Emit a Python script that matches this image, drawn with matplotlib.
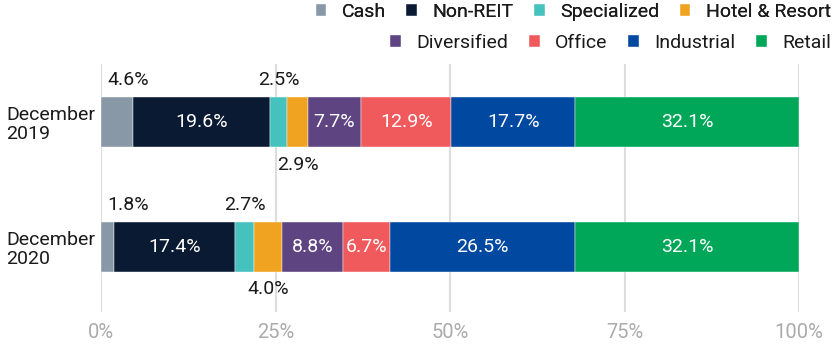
import matplotlib
matplotlib.use("Agg")
import matplotlib.pyplot as plt
import numpy as np

plt.rcParams['font.family'] = ['Roboto', 'DejaVu Sans']

categories = ["December\n2019", "December\n2020"]
series = ["Cash", "Non-REIT", "Specialized", "Hotel & Resort",
          "Diversified", "Office", "Industrial", "Retail"]
values_2019 = [4.6, 19.6, 2.5, 2.9, 7.7, 12.9, 17.7, 32.1]
values_2020 = [1.8, 17.4, 2.7, 4.0, 8.8, 6.7, 26.5, 32.1]
tick_values = [0, 25, 50, 75, 100]
tick_labels = ["0%", "25%", "50%", "75%", "100%"]

colors = ["#8898A6", "#0B1A33", "#45C1BE", "#F0A321",
          "#5E4582", "#F15A5D", "#0048A0", "#00A758"]
placement = ["above_left", "inside", "above", "below",
             "inside", "inside", "inside", "inside"]

data = np.array([values_2019, values_2020])  # rows: categories
ypos = np.array([1, 0])
bar_h = 0.4
fs = 14

fig = plt.figure(figsize=(8.32, 3.44), dpi=100)
ax = fig.add_axes([101/832, (344-312)/344, (799-101)/832, (312-64)/344])

left = np.zeros(len(categories))
handles = []
for i, name in enumerate(series):
    vals = data[:, i]
    bc = ax.barh(ypos, vals, left=left, height=bar_h, color=colors[i],
                 edgecolor="white", linewidth=0.3, label=name, zorder=3)
    handles.append(bc)
    for j in range(len(categories)):
        v = vals[j]
        txt = f"{v:.1f}%"
        cx = left[j] + v / 2
        if placement[i] == "inside":
            ax.text(cx, ypos[j], txt, ha="center", va="center", color="white",
                    fontsize=fs, zorder=4)
        elif placement[i] == "above":
            ax.text(cx, ypos[j] + bar_h/2 + 0.14, txt, ha="center", va="center",
                    color="#1a1a1a", fontsize=fs, zorder=4)
        elif placement[i] == "below":
            ax.text(cx, ypos[j] - bar_h/2 - 0.14, txt, ha="center", va="center",
                    color="#1a1a1a", fontsize=fs, zorder=4)
        elif placement[i] == "above_left":
            ax.text(left[j] + 0.9, ypos[j] + bar_h/2 + 0.14, txt, ha="left",
                    va="center", color="#1a1a1a", fontsize=fs, zorder=4)
    left = left + vals

ax.set_xlim(0, 100)
ax.set_ylim(-0.52, 1.464)
ax.set_xticks(tick_values)
ax.set_xticklabels(tick_labels, color="#ABABAB", fontsize=14.5)
ax.set_yticks(ypos)
ax.set_yticklabels(categories, ha="left", fontsize=fs, color="#1a1a1a",
                   linespacing=1.1)
ax.tick_params(axis="y", length=0, pad=68)
ax.tick_params(axis="x", length=0, pad=8)
ax.grid(axis="x", color="#DDDDDD", linewidth=1.5, zorder=0)
ax.grid(axis="y", visible=False)
for s in ax.spines.values():
    s.set_visible(False)

leg_kw = dict(frameon=False, fontsize=fs, handlelength=0.55, handleheight=0.55,
              handletextpad=0.8, columnspacing=1.05, borderpad=0,
              borderaxespad=0, ncol=4, labelcolor="#1a1a1a")
leg1 = fig.legend(handles[:4], series[:4], loc="center right",
                  bbox_to_anchor=(831/832, 1 - 12/344), **leg_kw)
fig.add_artist(leg1)
leg2 = fig.legend(handles[4:], series[4:], loc="center right",
                  bbox_to_anchor=(831/832, 1 - 43/344), **leg_kw)

fig.savefig("out.png", dpi=100)
